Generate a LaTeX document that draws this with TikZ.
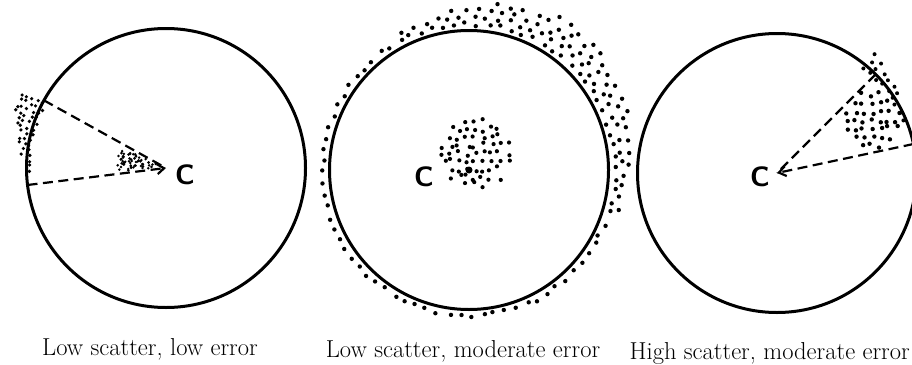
\documentclass[tikz,border=0pt]{standalone}
\usepackage{tikz}
\usetikzlibrary{arrows.meta,positioning,calc}

\begin{document}
\begin{tikzpicture}[x=1pt,y=-1pt,>={Straight Barb[length=7pt,width=10pt]},
  ring/.style={draw,circle,line width=3pt,minimum size=279pt,inner sep=0pt,outer sep=0pt},
  ray/.style={line width=2.2pt,dash pattern=on 10pt off 5.5pt},
  cmark/.style={font=\fontsize{28}{30}\selectfont\sffamily\bfseries,inner sep=0pt},
  caption/.style={font=\fontsize{24.5}{28}\selectfont,inner sep=0pt,anchor=base}]
\useasboundingbox (0,0) rectangle (912,364);
\pgfmathsetseed{2024}

% the three targets
\node[ring] (ring1) at (166,168) {};
\node[ring] (ring2) at (469,170) {};
\node[ring] (ring3) at (777,173) {};
\node[cmark] (c1) at (185,175) {C};
\node[cmark] (c2) at (424,177) {C};
\node[cmark] (c3) at (760,177) {C};

% low scatter, low error
\draw[ray] (ring1.151) -- (ring1.center);
\draw[ray,->] (ring1.187) -- (ring1.center);
\foreach \row in {0,...,4}{
  \pgfmathsetmacro\pd{138+6*\row}
  \foreach \k in {0,...,13}{
    \pgfmathsetmacro\pa{152+2.2*\k+1.2*rnd}
    \pgfmathsetmacro\rim{138+min(24,28-(\pa-155))}
    \pgfmathtruncatemacro\keep{\pd<=\rim}
    \pgfmathsetmacro\pr{\pd+2*rand}
    \ifnum\keep=1 \fill ($(ring1.center)+(\pa:\pr pt)$) circle (1.8pt); \fi
  }
}
\foreach \k in {1,...,60}{
  \pgfmathsetmacro\pa{154+30*rnd}
  \pgfmathsetmacro\pr{9+40*sqrt(rnd)}
  \fill ($(ring1.center)+(\pa:\pr pt)$) circle (1.4pt);
}

% low scatter, moderate error
\foreach \row in {0,...,4}{
  \pgfmathsetmacro\pd{146+7.5*\row}
  \foreach \k in {0,...,79}{
    \pgfmathsetmacro\pa{\k*4.5+2*rnd+2*mod(\row,2)}
    \pgfmathsetmacro\rim{149+28*max(0,cos(\pa-50))^2}
    \pgfmathtruncatemacro\keep{\pd<=\rim}
    \pgfmathsetmacro\pr{\pd+2*rand}
    \ifnum\keep=1 \fill ($(ring2.center)+(\pa:\pr pt)$) circle (2.2pt); \fi
  }
}
\foreach \i in {-4,...,4}{
  \foreach \j in {-4,...,4}{
    \pgfmathtruncatemacro\keep{(\i)*(\i)+(\j)*(\j)<=18}
    \ifnum\keep=1 \fill (475+8*\i+3*rand,153+8*\j+3*rand) circle (2.1pt); \fi
  }
}
\fill (ring2.center) circle (3.5pt);

% high scatter, moderate error
\draw[ray] (ring3.45) -- (ring3.center);
\draw[ray,->] (ring3.12) -- (ring3.center);
\foreach \i in {-3,...,3}{
  \foreach \j in {-3,...,3}{
    \pgfmathtruncatemacro\keep{(\i)*(\i)+(\j)*(\j)<=11}
    \ifnum\keep=1 \fill (872+8.5*\i+2.5*rand,120+8.5*\j+2.5*rand) circle (2.2pt); \fi
  }
}
\foreach \row in {0,...,2}{
  \pgfmathsetmacro\pd{137+8*\row}
  \foreach \k in {0,...,8}{
    \pgfmathsetmacro\pa{22+3.4*\k+1.5*rnd}
    \pgfmathtruncatemacro\keep{\pd<=140+16*(\pa-20)/30}
    \pgfmathsetmacro\pr{\pd+2*rand}
    \ifnum\keep=1 \fill ($(ring3.center)+(\pa:\pr pt)$) circle (2pt); \fi
  }
}

\node[caption] (cap1) at (150,355) {Low scatter, low error};
\node[caption] (cap2) at (463,357) {Low scatter, moderate error};
\node[caption,anchor=base east] (cap3) at (910,359) {High scatter, moderate error};
\end{tikzpicture}
\end{document}
